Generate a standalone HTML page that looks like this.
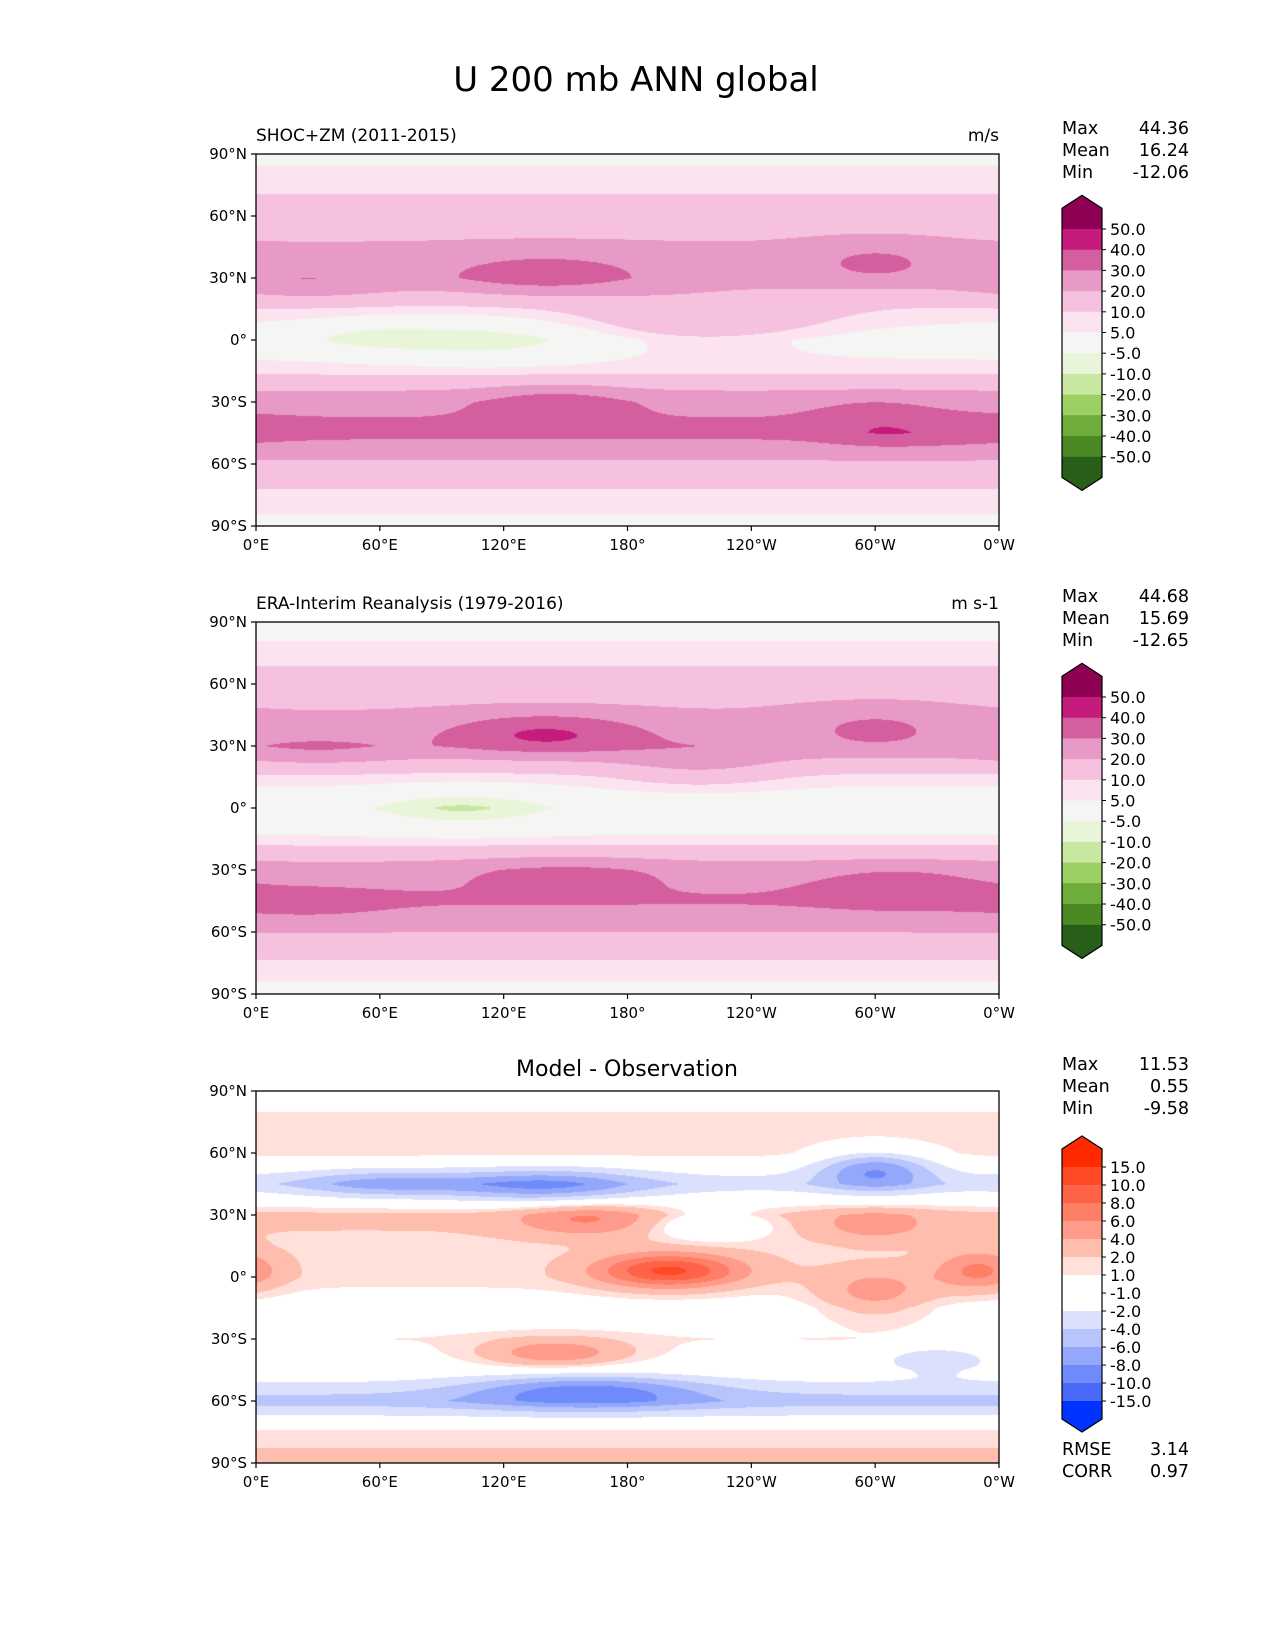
<!DOCTYPE html>
<html><head><meta charset="utf-8">
<style>
body{margin:0;background:#fff;font-family:"Liberation Sans","DejaVu Sans",sans-serif;}
#root{position:relative;width:1275px;height:1650px;overflow:hidden;background:#fff;}
.t{position:absolute;white-space:nowrap;color:#000;font-family:"DejaVu Sans","Liberation Sans",sans-serif;}
canvas{position:absolute;}
svg{position:absolute;left:0;top:0;}
</style></head>
<body>
<div id="root">
<div class="t" style="left:0;width:1272px;text-align:center;top:60px;font-size:34px;">U 200 mb ANN global</div>
<svg id="ov" width="1275" height="1650"></svg>
</div>
<script>
// ---- data ----
const lats = [90, 75, 60, 45, 30, 15, 0, -15, -30, -45, -60, -75, -90];
const zonalModel = [3, 8, 15, 21, 23, 9, 0, 8, 27, 33, 18, 8, 3];
const zonalObs   = [2, 7, 14, 21, 25, 8, -2, 6, 25, 31, 20, 9, 2];
const zonalDiff  = [0, 1.5, 1.5, -3, 2.5, 1.5, 1.5, 0, 1, 0, -5, 1.5, 2.5];
// blobs: lon, lat, amplitude, sigmaLon, sigmaLat
const blobsModel = [[140,32,14,35,7],[300,38,10,25,7],[25,27,8,30,6],[115,0,-9,40,8],[55,2,-6,25,6],[215,8,12,45,9],[145,-30,10,25,6],[300,-40,6,20,8],[330,-45,4,30,6]];
const blobsObs   = [[140,36,18,35,7],[300,40,9,30,8],[30,28,7,30,6],[100,0,-9,30,7],[215,20,8,30,8],[150,-32,8,35,6],[310,-38,7,30,8],[25,-47,5,30,6]];
const blobsDiff  = [[200,3,9,25,6],[140,44,-6,35,6],[300,52,-7,20,7],[160,-55,-6,40,6],[145,-37,5,25,5],[160,28,4,25,6],[220,25,-4,20,5],[300,25,3,20,6],[350,3,5,15,7],[300,-8,4,20,8],[60,45,-4,30,5],[330,-40,-4,20,5]];
const levelsU = [-50,-40,-30,-20,-10,-5,5,10,20,30,40,50];
const labelsU = ["50.0","40.0","30.0","20.0","10.0","5.0","-5.0","-10.0","-20.0","-30.0","-40.0","-50.0"];
const levelsD = [-15,-10,-8,-6,-4,-2,-1,1,2,4,6,8,10,15];
const labelsD = ["15.0","10.0","8.0","6.0","4.0","2.0","1.0","-1.0","-2.0","-4.0","-6.0","-8.0","-10.0","-15.0"];
const xTicks = ["0°E","60°E","120°E","180°","120°W","60°W","0°W"];
const yTicks = ["90°N","60°N","30°N","0°","30°S","60°S","90°S"];
const statsModel = [["Max","44.36"],["Mean","16.24"],["Min","-12.06"]];
const statsObs = [["Max","44.68"],["Mean","15.69"],["Min","-12.65"]];
const statsDiff = [["Max","11.53"],["Mean","0.55"],["Min","-9.58"]];
const statsErr = [["RMSE","3.14"],["CORR","0.97"]];
// colors
const colU = ["#275f18","#4a8a24","#6eac3b","#9ccf64","#c8e7a0","#e9f5d8","#f5f5f3","#fbe4f0","#f5c1df","#e89ac6","#d55e9f","#c51b7d","#8e0152"];
const colD = ["#0033ff","#4a6bfa","#6f8afa","#93a8fb","#b8c5fc","#dbe1fd","#ffffff","#ffffff","#ffe0da","#ffbdae","#ff9b8a","#ff7f66","#ff6347","#ff4a26","#ff2a00"];

const root=document.getElementById('root');
const ov=document.getElementById('ov');
const NS='http://www.w3.org/2000/svg';
const MW=743, MH=372, ML=256;
const tops=[154,622,1091];

function zonal(prof,lat){
  for(let i=0;i<lats.length-1;i++){
    if(lat<=lats[i]&&lat>=lats[i+1]){const f=(lats[i]-lat)/(lats[i]-lats[i+1]);return prof[i]*(1-f)+prof[i+1]*f;}
  }
  return prof[prof.length-1];
}
function field(prof,blobs,lon,lat){
  let v=zonal(prof,lat);
  for(const b of blobs){let dl=Math.abs(lon-b[0]);if(dl>180)dl=360-dl;
    v+=b[2]*Math.exp(-0.5*((dl/b[3])**2+((lat-b[1])/b[4])**2));}
  return v;
}
function levelIndex(levels,v){let k=0;while(k<levels.length&&v>=levels[k])k++;return k;}
function hex(c){return [parseInt(c.slice(1,3),16),parseInt(c.slice(3,5),16),parseInt(c.slice(5,7),16)];}
function txt(s,x,y,size,anchor,name){
  const t=document.createElementNS(NS,'text');t.textContent=s;t.setAttribute('x',x);t.setAttribute('y',y);
  t.setAttribute('font-size',size);t.setAttribute('font-family','DejaVu Sans, Liberation Sans, sans-serif');
  t.setAttribute('text-anchor',anchor||'start');
  
  
  ov.appendChild(t);return t;
}
function line(x1,y1,x2,y2,w,name){
  const l=document.createElementNS(NS,'line');l.setAttribute('x1',x1);l.setAttribute('y1',y1);l.setAttribute('x2',x2);l.setAttribute('y2',y2);
  l.setAttribute('stroke','#000');l.setAttribute('stroke-width',w);
  
  
  ov.appendChild(l);
}
function drawMap(top,prof,blobs,levels,cols,name){
  const c=document.createElement('canvas');c.width=MW;c.height=MH;c.style.left=ML+'px';c.style.top=top+'px';
  
  
  root.insertBefore(c,ov);
  const ctx=c.getContext('2d');const img=ctx.createImageData(MW,MH);
  const rgb=cols.map(hex);
  for(let y=0;y<MH;y++){const lat=90-180*(y+0.5)/MH;
    for(let x=0;x<MW;x++){const lon=360*(x+0.5)/MW;
      const k=levelIndex(levels,field(prof,blobs,lon,lat));const p=(y*MW+x)*4;
      img.data[p]=rgb[k][0];img.data[p+1]=rgb[k][1];img.data[p+2]=rgb[k][2];img.data[p+3]=255;}}
  ctx.putImageData(img,0,0);
  const r=document.createElementNS(NS,'rect');r.setAttribute('x',ML);r.setAttribute('y',top);r.setAttribute('width',MW);r.setAttribute('height',MH);
  r.setAttribute('fill','none');r.setAttribute('stroke','#000');r.setAttribute('stroke-width',1.3);
  
  
  ov.appendChild(r);
  xTicks.forEach((s,i)=>{const x=ML+MW*i/6;line(x,top+MH,x,top+MH+5,1.2,'x-tick');txt(s,x,top+MH+24,15,'middle','x-tick-label');});
  yTicks.forEach((s,i)=>{const y=top+MH*i/6;line(ML-5,y,ML,y,1.2,'y-tick');txt(s,ML-9,y+5,15,'end','y-tick-label');});
}
function drawBar(top,tipTop,seg,cols,labels,name){
  const x0=1062,x1=1102,n=cols.length;
  const first=top;
  const last=first+seg*(n-2);
  const g=document.createElementNS(NS,'g');
  
  
  ov.appendChild(g);
  function poly(pts,fill){const p=document.createElementNS(NS,'polygon');p.setAttribute('points',pts);p.setAttribute('fill',fill);g.appendChild(p);}
  poly(`${x0},${first} ${x0},${first-seg} ${(x0+x1)/2},${first-seg-13} ${x1},${first-seg} ${x1},${first}`,cols[n-1]);
  for(let i=0;i<n-2;i++){poly(`${x0},${first+i*seg} ${x1},${first+i*seg} ${x1},${first+(i+1)*seg+0.5} ${x0},${first+(i+1)*seg+0.5}`,cols[n-2-i]);}
  poly(`${x0},${last} ${x0},${last+seg} ${(x0+x1)/2},${last+seg+13} ${x1},${last+seg} ${x1},${last}`,cols[0]);
  const o=document.createElementNS(NS,'polygon');
  o.setAttribute('points',`${x0},${first-seg} ${(x0+x1)/2},${first-seg-13} ${x1},${first-seg} ${x1},${last+seg} ${(x0+x1)/2},${last+seg+13} ${x0},${last+seg}`);
  o.setAttribute('fill','none');o.setAttribute('stroke','#000');o.setAttribute('stroke-width',1.2);g.appendChild(o);
  labels.forEach((s,i)=>{const y=first+i*seg;line(x1,y,x1+4,y,1,'colorbar-tick');txt(s,x1+8,y+6,16,'start','colorbar-label');});
}
function stats(arr,y0,name){
  arr.forEach((r,i)=>{txt(r[0],1062,y0+i*22,17.5,'start',name+'-label');txt(r[1],1189,y0+i*22,17.5,'end',name+'-value');});
}
drawMap(tops[0],zonalModel,blobsModel,levelsU,colU,'model-map');
drawMap(tops[1],zonalObs,blobsObs,levelsU,colU,'obs-map');
drawMap(tops[2],zonalDiff,blobsDiff,levelsD,colD,'diff-map');
txt('SHOC+ZM (2011-2015)',256,141,17,'start','model-panel-title');
txt('m/s',999,141,17,'end','model-units');
txt('ERA-Interim Reanalysis (1979-2016)',256,609,17,'start','obs-panel-title');
txt('m s-1',999,609,17,'end','obs-units');
txt('Model - Observation',627,1076,22,'middle','diff-panel-title');
stats(statsModel,134,'model-stats');
stats(statsObs,602,'obs-stats');
stats(statsDiff,1070,'diff-stats');
stats(statsErr,1455,'error-stats');
drawBar(229,195,20.7,colU,labelsU,'model-colorbar');
drawBar(697,663,20.7,colU,labelsU,'obs-colorbar');
drawBar(1167,1135,18,colD,labelsD,'diff-colorbar');
</script>
</body></html>
